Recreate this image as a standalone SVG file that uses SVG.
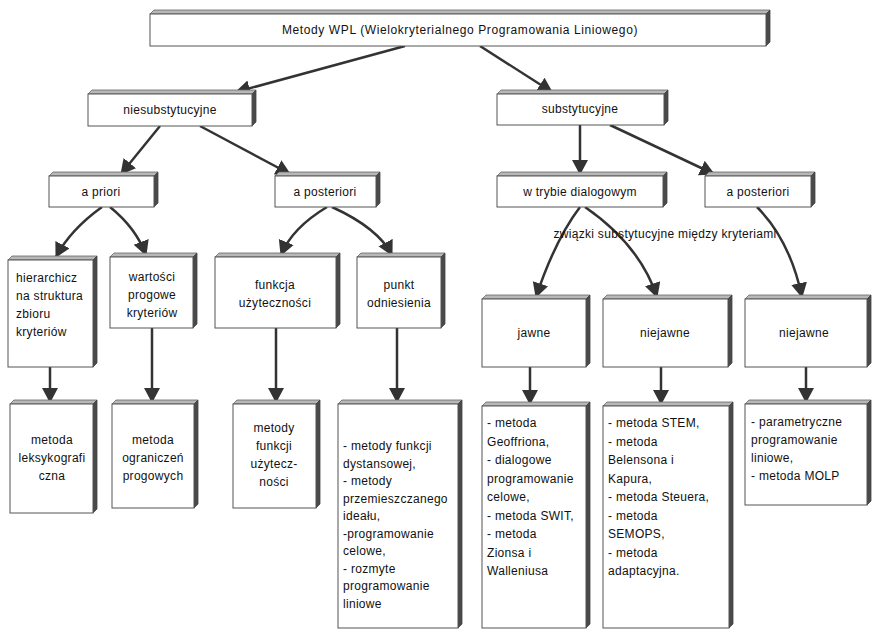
<svg xmlns="http://www.w3.org/2000/svg" width="877" height="631" viewBox="0 0 877 631">
<style>
.face{fill:#fff;stroke:#555;stroke-width:1}
.top{fill:#b8b8b8;stroke:#666;stroke-width:0.8}
.side{fill:#4a4a4a;stroke:#444;stroke-width:0.8}
text{font-family:"Liberation Sans",Arial,sans-serif;font-size:12px;fill:#111;letter-spacing:0.3px}
.c{text-anchor:middle}
.title{letter-spacing:0.6px}
.conn{fill:none;stroke:#333;stroke-width:2.5}
</style>
<defs>
<marker id="ah" markerUnits="userSpaceOnUse" markerWidth="17" markerHeight="17" refX="14" refY="8" orient="auto">
<path d="M0,0 L15,8 L0,16 z" fill="#333"/>
</marker>
</defs>
<rect width="877" height="631" fill="#fff"/>

<g id="connectors">
<path class="conn" marker-end="url(#ah)" d="M405,46 L236,92"/>
<path class="conn" marker-end="url(#ah)" d="M480,46 L552,92"/>
<path class="conn" marker-end="url(#ah)" d="M160,126 L121,174"/>
<path class="conn" marker-end="url(#ah)" d="M200,126 L290,174"/>
<path class="conn" marker-end="url(#ah)" d="M580,125 L580,174"/>
<path class="conn" marker-end="url(#ah)" d="M610,125 L714,174"/>
<path class="conn" marker-end="url(#ah)" d="M102,207 Q70,230 56,257"/>
<path class="conn" marker-end="url(#ah)" d="M110,207 Q136,228 146,255"/>
<path class="conn" marker-end="url(#ah)" d="M327,207 Q292,228 281,255"/>
<path class="conn" marker-end="url(#ah)" d="M332,207 Q378,228 392,255"/>
<path class="conn" marker-end="url(#ah)" d="M50,367 L50,402"/>
<path class="conn" marker-end="url(#ah)" d="M152,328 L152,402"/>
<path class="conn" marker-end="url(#ah)" d="M276,328 L276,402"/>
<path class="conn" marker-end="url(#ah)" d="M397,328 L397,402"/>
<path class="conn" marker-end="url(#ah)" d="M580,207 Q555,240 536,297"/>
<path class="conn" marker-end="url(#ah)" d="M585,207 Q640,245 657,297"/>
<path class="conn" marker-end="url(#ah)" d="M757,207 Q790,240 802,297"/>
<path class="conn" marker-end="url(#ah)" d="M530,367 L530,404"/>
<path class="conn" marker-end="url(#ah)" d="M661,367 L661,404"/>
<path class="conn" marker-end="url(#ah)" d="M806,367 L806,402"/>
</g>

<g id="n-root">
<polygon class="top" points="150,14 154,10 770,10 766,14"/>
<polygon class="side" points="766,14 770,10 770,42 766,46"/>
<rect class="face" x="150" y="14" width="616" height="32"/>
<text class="c title" x="460" y="34">Metody WPL (Wielokryterialnego Programowania Liniowego)</text>
</g>

<g id="n-niesub">
<polygon class="top" points="88,94 92,90 256,90 252,94"/>
<polygon class="side" points="252,94 256,90 256,122 252,126"/>
<rect class="face" x="88" y="94" width="164" height="32"/>
<text class="c" x="170" y="114">niesubstytucyjne</text>
</g>

<g id="n-sub">
<polygon class="top" points="497,94 501,90 668,90 664,94"/>
<polygon class="side" points="664,94 668,90 668,121 664,125"/>
<rect class="face" x="497" y="94" width="167" height="31"/>
<text class="c" x="580" y="113">substytucyjne</text>
</g>

<g id="n-apriori">
<polygon class="top" points="49,176 53,172 158,172 154,176"/>
<polygon class="side" points="154,176 158,172 158,203 154,207"/>
<rect class="face" x="49" y="176" width="105" height="31"/>
<text class="c" x="101" y="196">a priori</text>
</g>

<g id="n-apost-l">
<polygon class="top" points="275,176 279,172 380,172 376,176"/>
<polygon class="side" points="376,176 380,172 380,203 376,207"/>
<rect class="face" x="275" y="176" width="101" height="31"/>
<text class="c" x="325" y="196">a posteriori</text>
</g>

<g id="n-dialog">
<polygon class="top" points="497,176 501,172 667,172 663,176"/>
<polygon class="side" points="663,176 667,172 667,203 663,207"/>
<rect class="face" x="497" y="176" width="166" height="31"/>
<text class="c" x="580" y="196">w trybie dialogowym</text>
</g>

<g id="n-apost-r">
<polygon class="top" points="705,176 709,172 815,172 811,176"/>
<polygon class="side" points="811,176 815,172 815,203 811,207"/>
<rect class="face" x="705" y="176" width="106" height="31"/>
<text class="c" x="758" y="196">a posteriori</text>
</g>

<g id="n-hier">
<polygon class="top" points="8,260 12,256 97,256 93,260"/>
<polygon class="side" points="93,260 97,256 97,363 93,367"/>
<rect class="face" x="8" y="260" width="85" height="107"/>
<text x="16" y="282">hierarchicz</text>
<text x="16" y="300">na struktura</text>
<text x="16" y="318">zbioru</text>
<text x="16" y="336">kryteriów</text>
</g>

<g id="n-wart">
<polygon class="top" points="110,257 114,253 197,253 193,257"/>
<polygon class="side" points="193,257 197,253 197,324 193,328"/>
<rect class="face" x="110" y="257" width="83" height="71"/>
<text class="c" x="152" y="281">wartości</text>
<text class="c" x="152" y="299">progowe</text>
<text class="c" x="152" y="317">kryteriów</text>
</g>

<g id="n-funk">
<polygon class="top" points="215,257 219,253 340,253 336,257"/>
<polygon class="side" points="336,257 340,253 340,324 336,328"/>
<rect class="face" x="215" y="257" width="121" height="71"/>
<text class="c" x="275" y="289">funkcja</text>
<text class="c" x="275" y="307">użyteczności</text>
</g>

<g id="n-punkt">
<polygon class="top" points="357,257 361,253 445,253 441,257"/>
<polygon class="side" points="441,257 445,253 445,324 441,328"/>
<rect class="face" x="357" y="257" width="84" height="71"/>
<text class="c" x="399" y="289">punkt</text>
<text class="c" x="399" y="307">odniesienia</text>
</g>

<g id="n-jawne">
<polygon class="top" points="482,299 486,295 590,295 586,299"/>
<polygon class="side" points="586,299 590,295 590,363 586,367"/>
<rect class="face" x="482" y="299" width="104" height="68"/>
<text class="c" x="534" y="337">jawne</text>
</g>

<g id="n-niejawne">
<polygon class="top" points="603,299 607,295 732,295 728,299"/>
<polygon class="side" points="728,299 732,295 732,363 728,367"/>
<rect class="face" x="603" y="299" width="125" height="68"/>
<text class="c" x="665" y="337">niejawne</text>
</g>

<g id="n-niejawne-r">
<polygon class="top" points="745,299 749,295 871,295 867,299"/>
<polygon class="side" points="867,299 871,295 871,363 867,367"/>
<rect class="face" x="745" y="299" width="122" height="68"/>
<text class="c" x="804" y="337">niejawne</text>
</g>

<g id="n-leks">
<polygon class="top" points="10,404 14,400 97,400 93,404"/>
<polygon class="side" points="93,404 97,400 97,509 93,513"/>
<rect class="face" x="10" y="404" width="83" height="109"/>
<text class="c" x="52" y="444">metoda</text>
<text class="c" x="52" y="462">leksykografi</text>
<text class="c" x="52" y="480">czna</text>
</g>

<g id="n-ogr">
<polygon class="top" points="112,404 116,400 198,400 194,404"/>
<polygon class="side" points="194,404 198,400 198,504 194,508"/>
<rect class="face" x="112" y="404" width="82" height="104"/>
<text class="c" x="153" y="444">metoda</text>
<text class="c" x="153" y="462">ograniczeń</text>
<text class="c" x="153" y="480">progowych</text>
</g>

<g id="n-mfu">
<polygon class="top" points="233,404 237,400 320,400 316,404"/>
<polygon class="side" points="316,404 320,400 320,504 316,508"/>
<rect class="face" x="233" y="404" width="83" height="104"/>
<text class="c" x="274" y="432">metody</text>
<text class="c" x="274" y="450">funkcji</text>
<text class="c" x="274" y="468">użytecz-</text>
<text class="c" x="274" y="486">ności</text>
</g>

<g id="n-pb">
<polygon class="top" points="338,404 342,400 462,400 458,404"/>
<polygon class="side" points="458,404 462,400 462,624 458,628"/>
<rect class="face" x="338" y="404" width="120" height="224"/>
<text x="343" y="450">- metody funkcji</text>
<text x="343" y="467.5">dystansowej,</text>
<text x="343" y="485">- metody</text>
<text x="343" y="502.5">przemieszczanego</text>
<text x="343" y="520">ideału,</text>
<text x="343" y="537.5">-programowanie</text>
<text x="343" y="555">celowe,</text>
<text x="343" y="572.5">- rozmyte</text>
<text x="343" y="590">programowanie</text>
<text x="343" y="607.5">liniowe</text>
</g>

<g id="n-jb">
<polygon class="top" points="482,406 486,402 590,402 586,406"/>
<polygon class="side" points="586,406 590,402 590,624 586,628"/>
<rect class="face" x="482" y="406" width="104" height="222"/>
<text x="487" y="427">- metoda</text>
<text x="487" y="445.5">Geoffriona,</text>
<text x="487" y="464">- dialogowe</text>
<text x="487" y="482.5">programowanie</text>
<text x="487" y="501">celowe,</text>
<text x="487" y="519.5">- metoda SWIT,</text>
<text x="487" y="538">- metoda</text>
<text x="487" y="556.5">Zionsa i</text>
<text x="487" y="575">Walleniusa</text>
</g>

<g id="n-nb">
<polygon class="top" points="603,406 607,402 733,402 729,406"/>
<polygon class="side" points="729,406 733,402 733,624 729,628"/>
<rect class="face" x="603" y="406" width="126" height="222"/>
<text x="608" y="427">- metoda STEM,</text>
<text x="608" y="445.5">- metoda</text>
<text x="608" y="464">Belensona i</text>
<text x="608" y="482.5">Kapura,</text>
<text x="608" y="501">- metoda Steuera,</text>
<text x="608" y="519.5">- metoda</text>
<text x="608" y="538">SEMOPS,</text>
<text x="608" y="556.5">- metoda</text>
<text x="608" y="575">adaptacyjna.</text>
</g>

<g id="n-molp">
<polygon class="top" points="745,404 749,400 871,400 867,404"/>
<polygon class="side" points="867,404 871,400 871,501 867,505"/>
<rect class="face" x="745" y="404" width="122" height="101"/>
<text x="751" y="426">- parametryczne</text>
<text x="751" y="444">programowanie</text>
<text x="751" y="462">liniowe,</text>
<text x="751" y="480">- metoda MOLP</text>
</g>

<text id="label-zwiazki" class="c" x="665" y="238">związki substytucyjne między kryteriami</text>
</svg>
